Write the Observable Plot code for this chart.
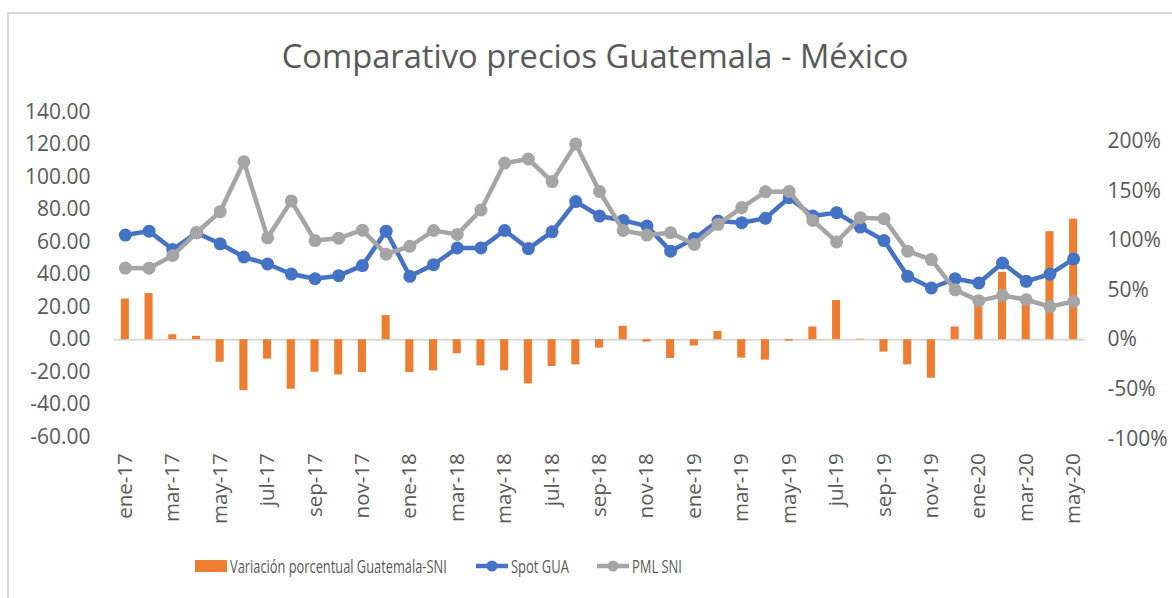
<!DOCTYPE html>
<html>
<head>
<meta charset="utf-8">
<script src="https://cdn.jsdelivr.net/npm/d3@7"></script>
<script src="https://cdn.jsdelivr.net/npm/@observablehq/plot@0.6"></script>
<style>
  html, body { margin: 0; padding: 0; background: #fff; }
  body { width: 1172px; height: 598px; position: relative; overflow: hidden; }
  #frame { position: absolute; left: 7px; top: 12px; width: 1300px; height: 700px; border: 2px solid #D9D9D9; box-sizing: border-box; }
  #title { position: absolute; top: 34px; left: 0; width: 1190px; text-align: center; font-family: 'Open Sans'; font-size: 32.7px; color: #595959; line-height: 44px; }
  #chart { position: absolute; top: 90px; left: 0; }
  #legend { position: absolute; top: 550px; left: 0; }
</style>
</head>
<body>
<div id="frame"></div>
<div id="title">Comparativo precios Guatemala - México</div>
<div id="chart"></div>
<div id="legend"></div>
<script>
const months = ["ene-17","feb-17","mar-17","abr-17","may-17","jun-17","jul-17","ago-17","sep-17","oct-17","nov-17","dic-17",
  "ene-18","feb-18","mar-18","abr-18","may-18","jun-18","jul-18","ago-18","sep-18","oct-18","nov-18","dic-18",
  "ene-19","feb-19","mar-19","abr-19","may-19","jun-19","jul-19","ago-19","sep-19","oct-19","nov-19","dic-19",
  "ene-20","feb-20","mar-20","abr-20","may-20"];
const spotGUA = [64.4, 66.8, 55.5, 65.8, 59.0, 50.9, 46.6, 40.4, 37.5, 39.4, 45.6, 66.8,
  39.0, 46.2, 56.5, 56.5, 67.2, 56.1, 66.4, 85.0, 76.1, 73.4, 69.9, 54.5,
  62.3, 73.0, 72.0, 74.7, 87.4, 76.1, 78.2, 69.3, 61.0, 39.0, 31.8, 37.5,
  34.9, 47.2, 35.9, 40.4, 49.7];
const pmlSNI = [44.1, 44.0, 51.8, 65.8, 78.8, 109.5, 62.7, 85.4, 61.0, 62.5, 67.4, 52.6,
  57.5, 67.2, 64.8, 79.8, 108.7, 111.2, 97.3, 120.5, 91.2, 67.2, 64.4, 65.8,
  58.6, 71.0, 81.3, 91.0, 91.2, 73.4, 60.2, 75.1, 74.5, 54.5, 49.3, 30.7,
  23.9, 27.2, 24.6, 20.4, 23.5];
const variacion = [41, 46.6, 5, 3.4, -22.7, -51.4, -19.6, -50, -32.8, -35.5, -33.1, 24.3,
  -33.1, -31.4, -14.2, -26.4, -31.4, -44.6, -27, -25.4, -8.5, 13.5, -2.4, -19,
  -6.4, 8.4, -18.6, -20.6, -1.5, 12.8, 39.5, 0.5, -12.5, -25.4, -38.9, 12.8,
  44, 67.9, 43, 109, 121.6];
const leftTicks = [-60, -40, -20, 0, 20, 40, 60, 80, 100, 120, 140];
const rightTicks = [-100, -50, 0, 50, 100, 150, 200];
const xTickLabels = ["ene-17","mar-17","may-17","jul-17","sep-17","nov-17","ene-18","mar-18","may-18","jul-18","sep-18","nov-18",
  "ene-19","mar-19","may-19","jul-19","sep-19","nov-19","ene-20","mar-20","may-20"];

const K = 0.61; // secondary (percent) axis → primary axis units
const HALF = 0.17; // half bar width, in category units
const data = months.map((m, i) => ({i, m, gua: spotGUA[i], sni: pmlSNI[i], pct: variacion[i]}));
const xTicks = xTickLabels.map(l => months.indexOf(l));

const blue = "#4472C4", orange = "#ED7D31", gray = "#A5A5A5";

const chart = Plot.plot({
  width: 1172,
  height: 440,
  marginTop: 21.7,
  marginBottom: 93.3,
  marginLeft: 113,
  marginRight: 87,
  style: {fontFamily: "'Open Sans'", fontSize: "21px", color: "#595959", background: "transparent", overflow: "visible"},
  x: {type: "linear", domain: [-0.5, months.length - 0.5], axis: null},
  y: {domain: [-60, 140], axis: null},
  marks: [
    Plot.ruleY([0], {stroke: "#D9D9D9", strokeWidth: 2}),
    Plot.rectY(data, {x1: d => d.i - HALF, x2: d => d.i + HALF, y1: 0, y2: d => d.pct * K, fill: orange}),
    Plot.line(data, {x: "i", y: "gua", stroke: blue, strokeWidth: 4.5, strokeLinejoin: "round"}),
    Plot.dot(data, {x: "i", y: "gua", r: 6.5, fill: blue, stroke: blue, strokeWidth: 0}),
    Plot.line(data, {x: "i", y: "sni", stroke: gray, strokeWidth: 4.5, strokeLinejoin: "round"}),
    Plot.dot(data, {x: "i", y: "sni", r: 6.5, fill: gray, stroke: gray, strokeWidth: 0}),
    Plot.axisY(leftTicks, {anchor: "left", label: null, tickSize: 0, tickPadding: 23, tickFormat: d => d.toFixed(2), fontSize: 21}),
    Plot.axisY(rightTicks.map(p => p * K), {anchor: "right", label: null, tickSize: 0, tickPadding: 22, tickFormat: d => `${Math.round(d / K)}%`, fontSize: 21}),
    Plot.axisX(xTicks, {anchor: "bottom", label: null, tickSize: 0, tickPadding: 16, tickRotate: -90, tickFormat: i => months[i], fontSize: 20.5})
  ]
});
document.getElementById("chart").appendChild(chart);

// legend
const items = [
  {type: "bar", color: orange, label: "Variación porcentual Guatemala-SNI", x: 195, w: 217},
  {type: "line", color: blue, label: "Spot GUA", x: 476, w: 58},
  {type: "line", color: gray, label: "PML SNI", x: 597, w: 50}
];
const lg = d3.select("#legend").append("svg").attr("width", 1172).attr("height", 36);
const cy = 16;
for (const it of items) {
  const g = lg.append("g");
  if (it.type === "bar") {
    g.append("rect").attr("x", it.x).attr("y", cy - 6).attr("width", 32).attr("height", 12).attr("fill", it.color);
  } else {
    g.append("line").attr("x1", it.x).attr("x2", it.x + 32).attr("y1", cy).attr("y2", cy)
      .attr("stroke", it.color).attr("stroke-width", 4.5);
    g.append("circle").attr("cx", it.x + 16).attr("cy", cy).attr("r", 5.5).attr("fill", it.color);
  }
  const tg = g.append("g");
  const t = tg.append("text").attr("x", 0).attr("y", 0).attr("dy", "0.36em")
    .attr("font-family", "'Open Sans', sans-serif")
    .attr("font-size", 18.5).attr("fill", "#595959")
    .text(it.label);
  const natural = t.node().getComputedTextLength() || it.w;
  tg.attr("transform", `translate(${it.x + 35},${cy}) scale(${it.w / natural},1)`);
}
</script>
</body>
</html>
